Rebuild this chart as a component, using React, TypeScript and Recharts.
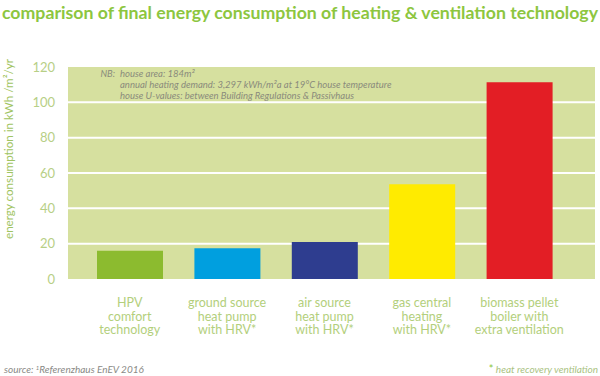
import { BarChart, Bar, XAxis, YAxis, CartesianGrid, Cell } from 'recharts'

const categories = [
  ['HPV', 'comfort', 'technology'],
  ['ground source', 'heat pump', 'with HRV*'],
  ['air source', 'heat pump', 'with HRV*'],
  ['gas central', 'heating', 'with HRV*'],
  ['biomass pellet', 'boiler with', 'extra ventilation'],
]
const consumption = [16, 17.4, 21, 53.6, 111.3]
const barColors = ['#8cbb2f', '#009fdf', '#2e3d8f', '#ffeb00', '#e31e25']
const yTicks = [0, 20, 40, 60, 80, 100, 120]
const noteLines = [
  'house area: 184m²',
  'annual heating demand: 3,297 kWh/m²a at 19°C house temperature',
  'house U-values: between Building Regulations & Passivhaus',
]

const data = categories.map((c, i) => ({ name: c.join(' '), value: consumption[i] }))

const FONT = 'Lato, "Open Sans", sans-serif'

function CatTick({ x, y, payload, index }: any) {
  const lines = categories[index] ?? [payload.value]
  return (
    <text x={x} y={y} textAnchor="middle" fill="#b3cf7c" fontSize={12.5} fontFamily={FONT}>
      {lines.map((l: string, i: number) => (
        <tspan key={i} x={x} dy={i === 0 ? 20 : 13.5}>{l}</tspan>
      ))}
    </text>
  )
}

export default function App() {
  return (
    <div style={{ position: 'absolute', left: 0, top: 0, width: 600, height: 376, background: '#fff' }}>
      <BarChart width={600} height={376} data={data} margin={{ top: 67, right: 5, left: 8, bottom: 37 }}>
        <CartesianGrid vertical={false} horizontalValues={[20, 40, 60, 80, 100]} stroke="#fff" strokeWidth={2} fill="#d6e09f" strokeOpacity={1} />
        <XAxis dataKey="name" axisLine={false} tickLine={false} interval={0} height={60} padding={{ left: 13, right: 27 }} tick={<CatTick />} />
        <YAxis
          domain={[0, 120]} ticks={yTicks} width={60} axisLine={false} tickLine={false} tickSize={0} tickMargin={13}
          tick={{ fontSize: 13, fill: '#b7cf86', fontFamily: FONT }}
        />
        <Bar dataKey="value" barSize={66} isAnimationActive={false}>
          {data.map((d, i) => <Cell key={d.name} fill={barColors[i]} />)}
        </Bar>
      </BarChart>
      <svg width={600} height={376} style={{ position: 'absolute', left: 0, top: 0, pointerEvents: 'none' }}>
        <text x={2} y={19} textLength={596} lengthAdjust="spacingAndGlyphs" fill="#8dc63f" fontSize={17.5} fontWeight="bold" fontFamily={FONT}>
          comparison of final energy consumption of heating &amp; ventilation technology
        </text>
        <text x={8} y={149} transform="rotate(-90 8 149)" textAnchor="middle" dominantBaseline="central" textLength={180} lengthAdjust="spacingAndGlyphs" fill="#9fc462" fontSize={12} fontFamily={FONT}>
          energy consumption in kWh /m²/yr
        </text>
        <text x={115} y={77} textAnchor="end" fill="#8a8b7c" fontSize={9.3} fontStyle="italic" fontFamily={FONT}>NB:</text>
        {noteLines.map((l, i) => (
          <text key={i} x={120} y={77 + i * 11} fill="#8a8b7c" fontSize={9.5} fontStyle="italic" fontFamily={FONT}>{l}</text>
        ))}
        <text x={4} y={373} fill="#8a8a86" fontSize={10} fontStyle="italic" fontFamily={FONT}>
          source: <tspan fontSize={6} dy={-3}>1</tspan><tspan dy={3}>Referenzhaus EnEV 2016</tspan>
        </text>
        <text x={598} y={373} textAnchor="end" fill="#a9c27f" fontSize={10} fontStyle="italic" fontFamily={FONT}>
          <tspan fill="#8dc63f" fontStyle="normal" fontSize={11}>*</tspan> heat recovery ventilation
        </text>
      </svg>
    </div>
  )
}
